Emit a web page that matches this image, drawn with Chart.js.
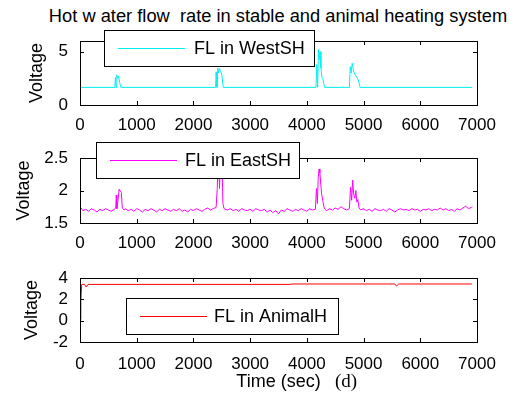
<!DOCTYPE html>
<html>
<head>
<meta charset="utf-8">
<script src="https://cdn.jsdelivr.net/npm/chart.js@4"></script>
<style>
  body { margin: 0; background: #fff; width: 530px; height: 397px; position: relative; overflow: hidden;
         font-family: "Liberation Sans", Arial, sans-serif; }
  canvas { position: absolute; left: 0; }
  #title { position: absolute; left: 0; width: 556px; top: 6px; text-align: center; font-size: 18.3px;
           white-space: pre; line-height: 20px; }
  #tag { position: absolute; left: 335px; top: 370px; font-family: "Liberation Serif", serif; font-size: 19px; }
</style>
</head>
<body>
<div id="title">Hot w ater flow  rate in stable and animal heating system</div>
<canvas id="c1" width="530" height="135" style="top:0"></canvas>
<canvas id="c2" width="530" height="120" style="top:135px"></canvas>
<canvas id="c3" width="530" height="142" style="top:255px"></canvas>
<div id="tag">(d)</div>
<script>
// tick labels
const xTicks = [0, 1000, 2000, 3000, 4000, 5000, 6000, 7000];
const yTicksWest = [0, 5];
const yTicksEast = [1.5, 2, 2.5];
const yTicksAnimal = [-2, 0, 2, 4];

// FL in WestSH
const timeWest = [0, 615, 625, 635, 650, 665, 680, 700, 720, 2390, 2400, 2415, 2430, 2445, 2460, 2480, 2500, 2525,
  4160, 4175, 4190, 4205, 4218, 4232, 4248, 4265, 4285, 4310, 4640, 4650, 4660,
  4750, 4765, 4780, 4800, 4815, 4835, 4855, 4880, 4905, 4940, 6910];
const flowWest = [1.65, 1.65, 2.6, 1.65, 2.83, 2.5, 2.7, 2.1, 1.65, 1.65, 3.1, 1.65, 3.46, 3.0, 3.4, 3.15, 2.9, 1.65,
  1.65, 3.8, 1.65, 5.25, 4.25, 5.0, 3.45, 2.6, 2.42, 1.65, 1.65, 1.72, 1.65,
  1.65, 3.6, 3.0, 3.93, 3.45, 3.0, 2.83, 2.6, 2.36, 1.65, 1.65];

// FL in EastSH
const timeEast = [0, 20, 50, 100, 150, 200, 250, 300, 350, 400, 450, 500, 550, 600, 630, 640, 650, 670, 690, 710, 730, 745,
  780, 800, 850, 900, 950, 1000, 1050, 1100, 1150, 1200, 1250, 1300, 1350, 1400, 1450, 1500, 1550, 1600, 1650,
  1700, 1750, 1800, 1850, 1900, 1950, 2000, 2050, 2100, 2150, 2200, 2250, 2300, 2350, 2400, 2420, 2440, 2460,
  2480, 2500, 2520, 2540, 2600, 2650, 2700, 2750, 2800, 2850, 2900, 2950, 3000, 3050, 3100, 3150, 3200, 3250,
  3300, 3350, 3400, 3450, 3500, 3550, 3600, 3650, 3700, 3750, 3800, 3850, 3900, 3950, 4000, 4050, 4100, 4150,
  4170, 4185, 4200, 4215, 4230, 4245, 4260, 4280, 4300, 4320, 4350, 4400, 4450, 4500, 4550, 4600, 4650, 4700,
  4750, 4770, 4790, 4808, 4825, 4845, 4865, 4880, 4900, 4920, 4950, 5000, 5050, 5100, 5150, 5200, 5250, 5300,
  5350, 5400, 5450, 5500, 5550, 5600, 5650, 5700, 5750, 5800, 5850, 5900, 5950, 6000, 6050, 6100, 6150, 6200,
  6250, 6300, 6350, 6400, 6450, 6500, 6550, 6600, 6650, 6700, 6750, 6800, 6850, 6900, 6920];
const flowEast = [1.74, 1.73, 1.69, 1.71, 1.68, 1.72, 1.70, 1.67, 1.71, 1.69, 1.72, 1.70, 1.68, 1.71, 1.73, 1.93, 1.72, 1.85, 2.02, 1.99, 1.97, 1.73,
  1.70, 1.72, 1.69, 1.71, 1.68, 1.72, 1.70, 1.67, 1.71, 1.69, 1.72, 1.70, 1.67, 1.71, 1.69, 1.72, 1.70, 1.68, 1.71,
  1.69, 1.72, 1.68, 1.70, 1.67, 1.71, 1.69, 1.72, 1.70, 1.68, 1.71, 1.73, 1.70, 1.72, 1.74, 2.03, 2.6, 2.03,
  2.6, 2.6, 1.80, 1.72, 1.70, 1.72, 1.69, 1.71, 1.68, 1.72, 1.70, 1.69, 1.71, 1.68, 1.72, 1.70, 1.69, 1.71,
  1.67, 1.70, 1.66, 1.69, 1.64, 1.70, 1.68, 1.72, 1.70, 1.68, 1.71, 1.69, 1.72, 1.70, 1.68, 1.72, 1.70, 1.71,
  2.03, 1.80, 2.19, 2.33, 2.27, 2.10, 1.95, 1.85, 1.75, 1.71, 1.69, 1.72, 1.70, 1.73, 1.71, 1.75, 1.72, 1.70,
  1.72, 2.05, 1.85, 2.16, 1.95, 1.88, 2.00, 1.82, 1.86, 1.73, 1.70, 1.72, 1.69, 1.71, 1.68, 1.72, 1.70, 1.69,
  1.71, 1.68, 1.72, 1.70, 1.67, 1.70, 1.72, 1.70, 1.71, 1.69, 1.72, 1.70, 1.71, 1.68, 1.71, 1.70, 1.72, 1.69,
  1.71, 1.70, 1.73, 1.70, 1.72, 1.69, 1.71, 1.68, 1.72, 1.70, 1.73, 1.76, 1.72, 1.74, 1.75];

// FL in AnimalH
const timeAnimal = [0, 15, 30, 80, 110, 140, 3700, 3750, 5550, 5580, 5620, 6910];
const flowAnimal = [0.1, 1.75, 3.4, 3.4, 3.15, 3.4, 3.4, 3.44, 3.44, 3.25, 3.44, 3.44];

const FONT = '"Liberation Sans", Arial, sans-serif';

// MATLAB-like axes box with inward ticks, plus boxed legend
const matlabAxes = {
  id: 'matlabAxes',
  afterDraw(chart, args, opts) {
    const ctx = chart.ctx;
    const a = chart.chartArea;
    const xs = chart.scales.x, ys = chart.scales.y;
    ctx.save();
    ctx.strokeStyle = '#000';
    ctx.lineWidth = 1;
    ctx.strokeRect(Math.round(a.left) + 0.5, Math.round(a.top) + 0.5, Math.round(a.right - a.left), Math.round(a.bottom - a.top));
    ctx.beginPath();
    xs.ticks.forEach(t => {
      const px = Math.round(xs.getPixelForValue(t.value)) + 0.5;
      ctx.moveTo(px, a.bottom); ctx.lineTo(px, a.bottom - 4);
      ctx.moveTo(px, a.top); ctx.lineTo(px, a.top + 4);
    });
    ys.ticks.forEach(t => {
      const py = Math.round(ys.getPixelForValue(t.value)) + 0.5;
      ctx.moveTo(a.left, py); ctx.lineTo(a.left + 4, py);
      ctx.moveTo(a.right, py); ctx.lineTo(a.right - 4, py);
    });
    ctx.stroke();

    const b = opts.box;
    const ds = chart.data.datasets[0];
    ctx.fillStyle = '#fff';
    ctx.fillRect(b.x, b.y, b.w, b.h);
    ctx.strokeRect(b.x + 0.5, b.y + 0.5, b.w, b.h);
    const my = Math.round(b.y + b.h / 2) + 0.5;
    ctx.strokeStyle = ds.borderColor;
    ctx.beginPath();
    ctx.moveTo(b.x + 14, my); ctx.lineTo(b.x + 81, my);
    ctx.stroke();
    ctx.fillStyle = '#000';
    ctx.font = '18px ' + FONT;
    ctx.textBaseline = 'middle';
    ctx.fillText(ds.label, b.x + b.textX, my + 1);
    ctx.restore();
  }
};

function panel(id, label, times, values, color, yMin, yMax, yTicks, o) {
  return new Chart(document.getElementById(id), {
    type: 'line',
    data: {
      datasets: [{
        label: label,
        data: times.map((t, i) => ({ x: t, y: values[i] })),
        borderColor: color,
        borderWidth: 1,
        pointRadius: 0,
        tension: 0,
        fill: false
      }]
    },
    options: {
      responsive: false,
      animation: false,
      devicePixelRatio: 1,
      layout: { padding: { left: 0, right: 53, top: o.top, bottom: o.bottom } },
      plugins: {
        legend: { display: false },
        tooltip: { enabled: false },
        matlabAxes: { box: o.box }
      },
      scales: {
        x: {
          type: 'linear', min: 0, max: 7000,
          afterBuildTicks: s => { s.ticks = xTicks.map(v => ({ value: v })); },
          afterFit: s => { s.height = o.xh; },
          grid: { display: false, drawTicks: false },
          border: { display: false },
          ticks: { color: '#000', font: { family: FONT, size: 17 }, padding: o.xPad, maxRotation: 0,
                   autoSkip: false, callback: v => String(v) },
          title: o.xTitle ? { display: true, text: o.xTitle, color: '#000', font: { family: FONT, size: 18 },
                              padding: { top: 0, bottom: 4 } } : { display: false }
        },
        y: {
          type: 'linear', min: yMin, max: yMax,
          afterBuildTicks: s => { s.ticks = yTicks.map(v => ({ value: v })); },
          afterFit: s => { s.width = 80; },
          grid: { display: false, drawTicks: false },
          border: { display: false },
          ticks: { color: '#000', font: { family: FONT, size: 17 }, padding: 12,
                   autoSkip: false, callback: v => String(v) },
          title: { display: true, text: 'Voltage', color: '#000', font: { family: FONT, size: 18 },
                   padding: { top: o.yPad, bottom: 0 } }
        }
      }
    },
    plugins: [matlabAxes]
  });
}

panel('c1', 'FL in WestSH', timeWest, flowWest, '#00f0f0', 0, 6, yTicksWest,
  { top: 41, bottom: 0, xh: 30, xPad: 10, yPad: 26, box: { x: 104, y: 30, w: 210, h: 36, textX: 90 } });
panel('c2', 'FL in EastSH', timeEast, flowEast, '#ff00ff', 1.5, 2.5, yTicksEast,
  { top: 23, bottom: 2, xh: 30, xPad: 10, yPad: 13, box: { x: 96, y: 7, w: 203, h: 36, textX: 89 } });
panel('c3', 'FL in AnimalH', timeAnimal, flowAnimal, '#ff0000', -2, 4, yTicksAnimal,
  { top: 23, bottom: 0, xh: 55, xPad: 12, yPad: 21, xTitle: 'Time (sec)', box: { x: 126, y: 43, w: 212, h: 36, textX: 88 } });
</script>
</body>
</html>
